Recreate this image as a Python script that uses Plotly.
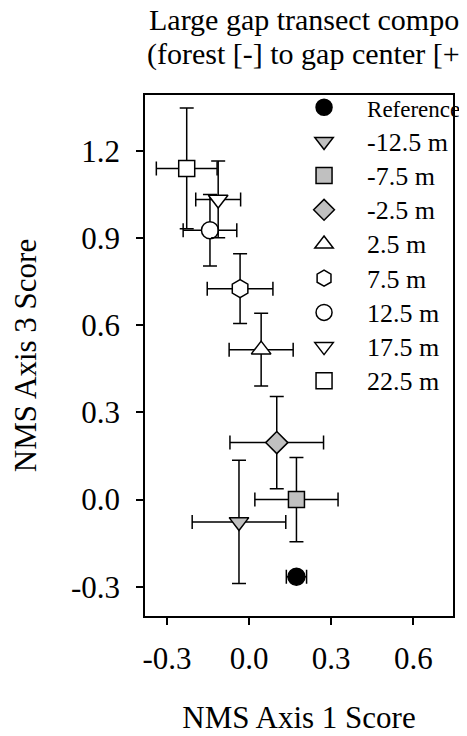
import plotly.graph_objects as go

# ---- data ----
labels = ["Reference", "-12.5 m", "-7.5 m", "-2.5 m", "2.5 m", "7.5 m", "12.5 m", "17.5 m", "22.5 m"]
x_vals = [0.173, -0.037, 0.173, 0.101, 0.044, -0.033, -0.143, -0.113, -0.228]
y_vals = [-0.266, -0.077, 0.000, 0.196, 0.516, 0.726, 0.927, 1.033, 1.140]
x_err = [0.037, 0.171, 0.152, 0.171, 0.117, 0.120, 0.098, 0.082, 0.111]
y_err = [0.000, 0.212, 0.145, 0.159, 0.125, 0.120, 0.123, 0.132, 0.208]
x_ticks = [-0.3, 0.0, 0.3, 0.6]
y_ticks = [-0.3, 0.0, 0.3, 0.6, 0.9, 1.2]

# ---- styles ----
symbols = ["circle", "triangle-down", "square", "diamond", "triangle-up", "hexagon", "circle", "triangle-down", "square"]
fills = ["black", "#c0c0c0", "#c0c0c0", "#c0c0c0", "white", "white", "white", "white", "white"]
sizes = [17, 17, 16, 17, 17, 18, 17, 17, 16]
FONT = "Liberation Serif, Times New Roman, serif"

fig = go.Figure()
for i, lab in enumerate(labels):
    fs = 23 if lab == "Reference" else 26
    name = f'<span style="font-size:{fs}px">{lab}</span>'
    fig.add_trace(go.Scatter(
        x=[x_vals[i]], y=[y_vals[i]], mode="markers", name=name,
        marker=dict(symbol=symbols[i], size=sizes[i], color=fills[i],
                    line=dict(color="black", width=1.5)),
        error_x=dict(type="data", array=[x_err[i]], color="black", thickness=1.5, width=7),
        error_y=dict(type="data", array=[y_err[i]], color="black", thickness=1.5, width=7),
    ))

fig.update_layout(
    width=467, height=736,
    margin=dict(l=132, r=9, t=87, b=128),
    plot_bgcolor="white", paper_bgcolor="white",
    font=dict(family=FONT, size=30, color="black"),
    showlegend=True,
    legend=dict(x=0.4417, y=1.019, xanchor="left", yanchor="top",
                bgcolor="rgba(0,0,0,0)", font=dict(size=24, family=FONT),
                itemwidth=76, tracegroupgap=0),
    xaxis=dict(range=[-0.3804, 0.745], tickvals=x_ticks, ticktext=[f"{v:.1f}" for v in x_ticks],
               showgrid=False, zeroline=False, showline=True, linecolor="black", linewidth=1.5,
               mirror=True, ticks="outside", ticklen=7, tickwidth=1.5, tickcolor="black",
               tickfont=dict(size=31), ticklabelstandoff=7,
               title=dict(text="NMS Axis 1 Score", font=dict(size=31), standoff=31)),
    yaxis=dict(range=[-0.4009, 1.3926], tickvals=y_ticks, ticktext=[f"{v:.1f}" for v in y_ticks],
               showgrid=False, zeroline=False, showline=True, linecolor="black", linewidth=1.5,
               mirror=True, ticks="outside", ticklen=7, tickwidth=1.5, tickcolor="black",
               tickfont=dict(size=31), ticklabelstandoff=10,
               title=dict(text="NMS Axis 3 Score", font=dict(size=31), standoff=32)),
    annotations=[
        dict(text="Large gap transect composition", x=0.006, y=1.144, xref="paper", yref="paper",
             xanchor="left", yanchor="middle", showarrow=False, font=dict(size=30, family=FONT)),
        dict(text="(forest [-] to gap center [+])", x=0.001, y=1.079, xref="paper", yref="paper",
             xanchor="left", yanchor="middle", showarrow=False, font=dict(size=30, family=FONT)),
    ],
)

fig.write_html("out.html")
